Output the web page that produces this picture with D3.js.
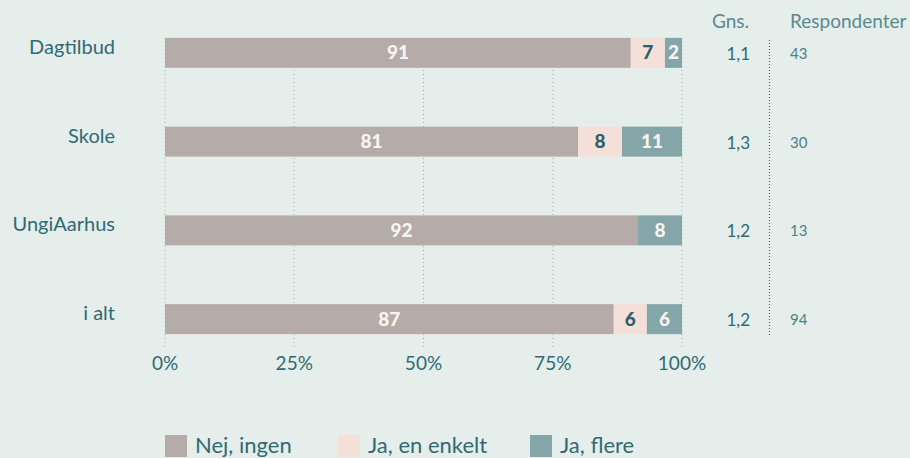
<!DOCTYPE html>
<html><head><meta charset="utf-8">
<script src="https://cdn.jsdelivr.net/npm/d3@7"></script>
<style>
html,body{margin:0;padding:0;background:#e5eeeb;}
svg{display:block;font-family:Lato, "Open Sans", sans-serif;}
</style></head>
<body><svg id="c" width="910" height="458"></svg>
<script>
const categories = ["Dagtilbud","Skole","UngiAarhus","i alt"];
const seriesNames = ["Nej, ingen","Ja, en enkelt","Ja, flere"];
const nejIngen   = [90.1, 79.9, 91.5, 86.8];
const jaEnkelt   = [6.6, 8.5, 0, 6.4];
const jaFlere    = [3.3, 11.6, 8.5, 6.8];
const nejLabels    = ["91","81","92","87"];
const enkeltLabels = ["7","8","","6"];
const flereLabels  = ["2","11","8","6"];
const gns = ["1,1","1,3","1,2","1,2"];
const respondenter = ["43","30","13","94"];
const ticks = [0,25,50,75,100];
const tickLabels = ["0%","25%","50%","75%","100%"];

const colors = ["#b5aca9","#f5dfd9","#84a6a8"];
const labelColors = ["#f7f5f0","#2a6169","#f7f5f0"];
const textColor = "#2f6b73";

const svg = d3.select("#c");
const x = d3.scaleLinear().domain([0,100]).range([165,682]);
const y = d3.scaleBand().domain(categories).range([8.5,363.5]).paddingInner(0.662).paddingOuter(0.331);

// gridlines
svg.append("g").selectAll("line").data(ticks).join("line")
  .attr("x1",d=>x(d)).attr("x2",d=>x(d)).attr("y1",38).attr("y2",350)
  .attr("stroke","#93b3b6").attr("stroke-width",1).attr("stroke-dasharray","1,3");

// tick labels
svg.append("g").selectAll("text").data(ticks).join("text")
  .attr("x",d=>x(d)).attr("y",370).attr("text-anchor","middle")
  .attr("font-size",19).attr("fill",textColor).text((d,i)=>tickLabels[i]);

const seriesVals = [nejIngen, jaEnkelt, jaFlere];
const seriesLbls = [nejLabels, enkeltLabels, flereLabels];
const rows = categories.map((c,i)=>{
  let acc=0;
  return seriesVals.map((s,k)=>{const o={cat:c,k,x0:acc,x1:acc+s[i],lbl:seriesLbls[k][i]}; acc+=s[i]; return o;});
});
const segs = rows.flat().filter(d=>d.x1>d.x0);

svg.append("g").selectAll("rect").data(segs).join("rect")
  .attr("x",d=>x(d.x0)).attr("width",d=>x(d.x1)-x(d.x0))
  .attr("y",d=>y(d.cat)).attr("height",y.bandwidth())
  .attr("fill",d=>colors[d.k]);

svg.append("g").selectAll("text").data(segs).join("text")
  .attr("x",d=>(x(d.x0)+x(d.x1))/2).attr("y",d=>y(d.cat)+y.bandwidth()/2+6.5)
  .attr("text-anchor","middle").attr("font-size",19).attr("font-weight",900)
  .attr("fill",d=>labelColors[d.k]).text(d=>d.lbl);

// category labels
svg.append("g").selectAll("text").data(categories).join("text")
  .attr("x",115).attr("y",d=>y(d)+y.bandwidth()/2+1).attr("text-anchor","end")
  .attr("font-size",20).attr("fill",textColor).text(d=>d);

// headers
svg.append("text").attr("x",749).attr("y",28).attr("text-anchor","end")
  .attr("font-size",19).attr("fill","#5a8a90").text("Gns.");
svg.append("text").attr("x",790).attr("y",28).attr("text-anchor","start")
  .attr("font-size",19).attr("fill","#5a8a90").text("Respondenter");

svg.append("g").selectAll("text").data(categories).join("text")
  .attr("x",750).attr("y",d=>y(d)+y.bandwidth()/2+7).attr("text-anchor","end")
  .attr("font-size",17).attr("fill",textColor).text((d,i)=>gns[i]);
svg.append("g").selectAll("text").data(categories).join("text")
  .attr("x",790).attr("y",d=>y(d)+y.bandwidth()/2+6).attr("text-anchor","start")
  .attr("font-size",15).attr("fill","#4e8189").text((d,i)=>respondenter[i]);

svg.append("line").attr("x1",769.5).attr("x2",769.5).attr("y1",40).attr("y2",336)
  .attr("stroke","#3f7179").attr("stroke-width",1.2).attr("stroke-dasharray","1,2");

// legend
const legX = [165,338,530];
const lg = svg.append("g").selectAll("g").data(seriesNames).join("g")
  .attr("transform",(d,i)=>`translate(${legX[i]},435)`);
lg.append("rect").attr("width",22).attr("height",22).attr("fill",(d,i)=>colors[i]);
lg.append("text").attr("x",30).attr("y",18).attr("font-size",22).attr("fill",textColor).text(d=>d);
</script></body></html>
